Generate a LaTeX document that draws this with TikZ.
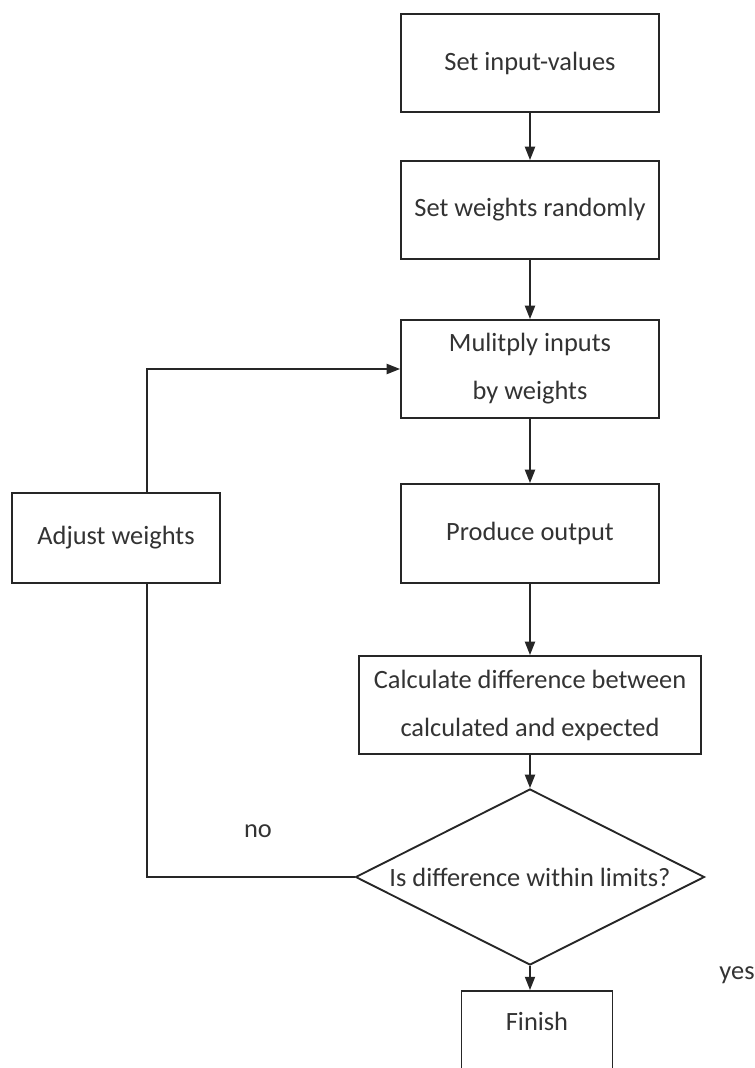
\documentclass[tikz,border=0pt]{standalone}
\usepackage{fontspec}
\setmainfont{Carlito}
\usetikzlibrary{shapes.geometric,arrows.meta}
\begin{document}
\begin{tikzpicture}[x=0.75pt,y=-0.75pt,
  every node/.style={font=\fontsize{19.8}{36}\selectfont, text=black!80},
  box/.style={draw=black!85, line width=1.4pt, rectangle, inner sep=0pt, align=center, minimum width=193.5pt, minimum height=73.5pt},
  dia/.style={draw=black!85, line width=1.4pt, diamond, inner sep=0pt, minimum width=261.75pt, minimum height=132pt},
  conn/.style={draw=black!85, line width=1.4pt},
  arr/.style={conn, -{Triangle[length=10pt,width=7.5pt]}}]
\useasboundingbox (0,0) rectangle (755,1068);
\clip (0,0) rectangle (755,1068);
\fill[white] (0,0) rectangle (755,1068);
\node[box] (b1) at (530,63) {Set input-values};
\node[box] (b2) at (530,210) {Set weights randomly};
\node[box] (b3) at (530,369) {Mulitply inputs\\by weights};
\node[box, minimum height=74.25pt] (b4) at (530,533.5) {Produce output};
\node[box, minimum width=156pt, minimum height=67.5pt] (adj) at (116,538) {Adjust weights};
\node[box, minimum width=256.5pt] (b5) at (530,705) {Calculate difference between\\calculated and expected};
\node[dia] (d) at (530,877) {\makebox[0pt]{Is difference within limits?}};
\node[box, anchor=base, minimum width=113.25pt, minimum height=0pt, text height=29.6pt, text depth=67.5pt] (fin) at (537,1030.5) {Finish};
\node (no) at (258,831) {no};
\node (yes) at (737,975) {yes};
\coordinate (lx) at (147,0);
\draw[arr] (b1.south) -- (b2.north);
\draw[arr] (b2.south) -- (b3.north);
\draw[arr] (b3.south) -- (b4.north);
\draw[arr] (b4.south) -- (b5.north);
\draw[arr] (b5.south) -- (d.north);
\draw[arr] (d.south) -- (d.south |- fin.north);
\draw[conn] (d.west) -- (d.west -| lx) -- (lx |- adj.south);
\draw[arr] (lx |- adj.north) -- (lx |- b3.west) -- (b3.west);
\end{tikzpicture}
\end{document}
